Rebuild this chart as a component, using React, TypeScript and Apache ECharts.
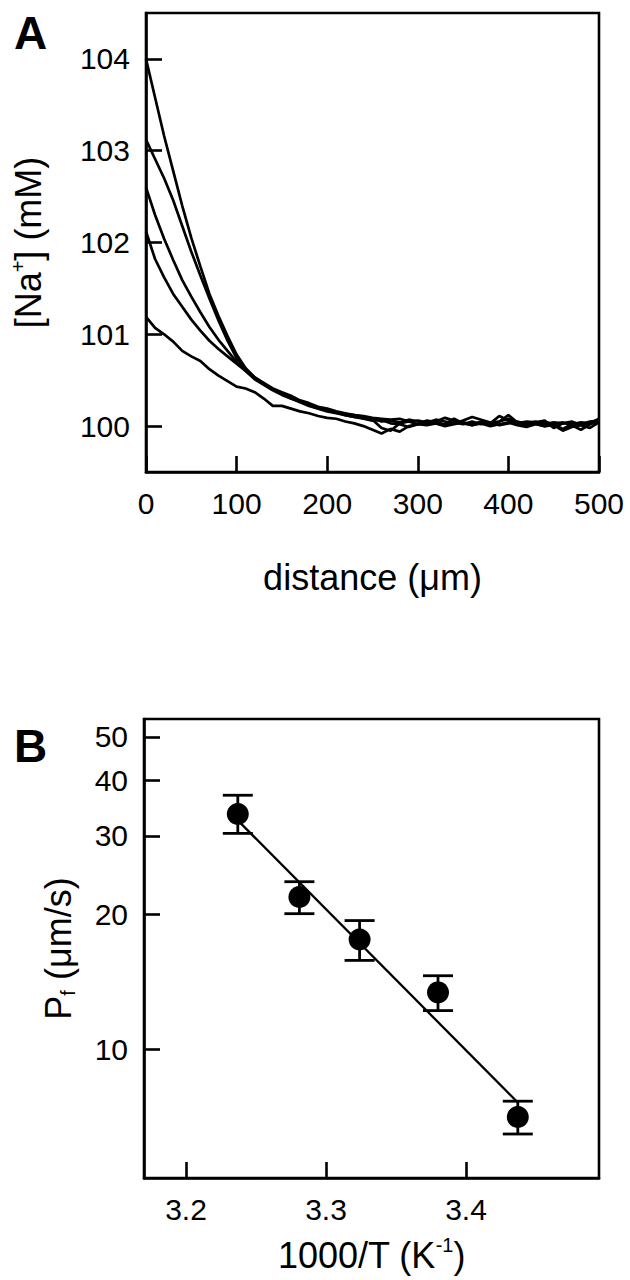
import React, { useEffect, useRef } from "react";
import * as echarts from "echarts";

// ---------- Panel A data ----------
const distanceUm = [
  0, 10, 20, 30, 40, 50, 60, 70, 80, 90, 100, 110, 120, 130, 140, 150, 160, 170, 180, 190, 200,
  210, 220, 230, 240, 250, 260, 270, 280, 290, 300, 310, 320, 330, 340, 350, 360, 370, 380, 390, 400,
  410, 420, 430, 440, 450, 460, 470, 480, 490, 500,
];
const naCurve1 = [
  104.0, 103.58, 103.16, 102.78, 102.4, 102.05, 101.74, 101.44, 101.2, 100.98, 100.78, 100.63, 100.53, 100.47, 100.41, 100.37, 100.33, 100.28, 100.25, 100.21, 100.19,
  100.16, 100.14, 100.12, 100.11, 100.09, 100.08, 100.07, 100.08, 100.05, 100.06, 100.04, 100.07, 100.05, 100.03, 100.06, 100.1, 100.07, 100.04, 100.05, 100.08,
  100.04, 100.03, 100.05, 100.02, 100.04, 100.03, 100.05, 100.01, 100.04, 100.07,
];
const naCurve2 = [
  103.12, 102.91, 102.7, 102.46, 102.18, 101.9, 101.64, 101.39, 101.15, 100.93, 100.74, 100.62, 100.53, 100.46, 100.4, 100.36, 100.31, 100.27, 100.24, 100.2, 100.18,
  100.15, 100.13, 100.12, 100.1, 100.08, 100.05, 100.06, 100.04, 100.07, 100.05, 100.03, 100.05, 100.09, 100.06, 100.04, 100.02, 100.05, 100.03, 100.11, 100.06,
  100.03, 100.05, 100.04, 100.06, 99.98, 100.03, 100.04, 100.02, 100.05, 100.06,
];
const naCurve3 = [
  102.6, 102.3, 102.04, 101.81, 101.59, 101.41, 101.24, 101.08, 100.94, 100.82, 100.7, 100.6, 100.51, 100.45, 100.39, 100.34, 100.3, 100.26, 100.22, 100.19, 100.16,
  100.14, 100.12, 100.1, 100.08, 100.06, 100.07, 100.03, 100.02, 99.99, 100.02, 100.04, 100.03, 100.01, 100.04, 100.02, 100.05, 100.02, 100.04, 100.01, 100.03,
  100.05, 100.02, 100.03, 100.0, 100.02, 100.04, 100.01, 99.96, 100.02, 100.05,
];
const naCurve4 = [
  102.12, 101.82, 101.62, 101.44, 101.3, 101.16, 101.04, 100.93, 100.84, 100.76, 100.68, 100.6, 100.52, 100.46, 100.4, 100.35, 100.3, 100.27, 100.23, 100.2, 100.17,
  100.15, 100.12, 100.1, 100.09, 100.07, 99.98, 99.95, 100.03, 100.05, 100.02, 100.06, 100.04, 100.02, 100.08, 100.03, 100.01, 100.04, 100.02, 100.05, 100.12,
  100.04, 100.01, 100.03, 100.05, 100.02, 99.97, 100.02, 100.04, 100.03, 100.08,
];
const naCurve5 = [
  101.19, 101.07, 101.0, 100.92, 100.82, 100.76, 100.71, 100.62, 100.55, 100.49, 100.43, 100.41, 100.37, 100.3, 100.22, 100.22, 100.19, 100.16, 100.14, 100.11, 100.09,
  100.08, 100.05, 100.03, 100.0, 99.96, 99.92, 99.97, 99.94, 100.0, 100.02, 100.01, 100.03, 100.0, 100.02, 100.04, 100.01, 100.03, 100.0, 100.02, 100.04,
  100.01, 99.99, 100.02, 100.0, 100.01, 99.95, 99.99, 100.01, 99.98, 100.04,
];
const naCurves = [naCurve1, naCurve2, naCurve3, naCurve4, naCurve5];
const naTicks = [100, 101, 102, 103, 104];

// ---------- Panel B data ----------
const invTemp = [3.237, 3.281, 3.324, 3.38, 3.437];
const pfMean = [33.6, 21.9, 17.6, 13.4, 7.05];
const pfLow = [30.4, 20.1, 15.8, 12.2, 6.46];
const pfHigh = [37.0, 23.7, 19.4, 14.6, 7.65];
const fitInvTemp = [3.237, 3.437];
const fitPf = [32.5, 7.6];
const invTTicks = [3.2, 3.3, 3.4];
const pfTicks = [10, 20, 30, 40, 50];

const FONT = "'Liberation Sans', Arial, Helvetica, sans-serif";
const lg = (v: number) => Math.log10(v);

export default function App() {
  const ref = useRef<HTMLDivElement>(null);

  useEffect(() => {
    if (!ref.current) return;
    const chart = echarts.init(ref.current, undefined, { renderer: "svg" });

    const axisLine = { show: true, lineStyle: { color: "#000", width: 2.6 } };
    const tickStyle = { color: "#000", width: 2.6 };
    const labelBase = { color: "#000", fontSize: 30, fontFamily: FONT, margin: 16 };
    const nameStyle = {
      color: "#000",
      fontSize: 36,
      fontFamily: FONT,
      lineHeight: 40,
      rich: {
        sup: { fontSize: 20, fontFamily: FONT, color: "#000", verticalAlign: "top", lineHeight: 40 },
        sub: { fontSize: 20, fontFamily: FONT, color: "#000", verticalAlign: "bottom", lineHeight: 40 },
      },
    };

    const option: any = {
      animation: false,
      backgroundColor: "#fff",
      grid: [
        { left: 144, right: 31, top: 13, height: 459, show: true, borderColor: "#000", borderWidth: 2.6, containLabel: false },
        { left: 144, right: 31, top: 719, height: 459, show: true, borderColor: "#000", borderWidth: 2.6, containLabel: false },
      ],
      xAxis: [
        {
          type: "value",
          gridIndex: 0,
          min: 0,
          max: 500,
          interval: 100,
          axisLine,
          axisTick: { show: true, inside: true, length: 16, lineStyle: tickStyle },
          axisLabel: { ...labelBase, showMinLabel: true, showMaxLabel: true },
          splitLine: { show: false },
          name: "distance (μm)",
          nameLocation: "middle",
          nameGap: 85,
          nameTextStyle: nameStyle,
        },
        {
          type: "value",
          gridIndex: 1,
          min: 3.17,
          max: 3.495,
          axisLine,
          axisTick: { show: true, inside: true, length: 16, lineStyle: tickStyle, customValues: invTTicks },
          axisLabel: { ...labelBase, customValues: invTTicks, formatter: (v: number) => v.toFixed(1) },
          splitLine: { show: false },
          name: "1000/T (K{sup|-1})",
          nameLocation: "middle",
          nameGap: 57,
          nameTextStyle: nameStyle,
        },
      ],
      yAxis: [
        {
          type: "value",
          gridIndex: 0,
          min: 99.5,
          max: 104.5,
          axisLine,
          axisTick: { show: true, inside: true, length: 16, lineStyle: tickStyle, customValues: naTicks },
          axisLabel: { ...labelBase, customValues: naTicks, formatter: (v: number) => String(Math.round(v)) },
          splitLine: { show: false },
          name: "[Na{sup|+}] (mM)",
          nameLocation: "middle",
          nameGap: 98,
          nameTextStyle: nameStyle,
        },
        {
          type: "value",
          gridIndex: 1,
          min: lg(5.15),
          max: lg(54.8),
          axisLine,
          axisTick: { show: true, inside: true, length: 16, lineStyle: tickStyle, customValues: pfTicks.map(lg) },
          axisLabel: {
            ...labelBase,
            customValues: pfTicks.map(lg),
            formatter: (v: number) => String(Math.round(Math.pow(10, v))),
          },
          splitLine: { show: false },
          name: "P{sub|f} (μm/s)",
          nameLocation: "middle",
          nameGap: 66,
          nameTextStyle: nameStyle,
        },
      ],
      series: [
        ...naCurves.map((c) => ({
          type: "line",
          xAxisIndex: 0,
          yAxisIndex: 0,
          data: distanceUm.map((d, i) => [d, c[i]]),
          showSymbol: false,
          symbol: "none",
          lineStyle: { color: "#000", width: 2.7 },
          z: 2,
        })),
        {
          type: "line",
          xAxisIndex: 1,
          yAxisIndex: 1,
          data: fitInvTemp.map((x, i) => [x, lg(fitPf[i])]),
          showSymbol: false,
          symbol: "none",
          lineStyle: { color: "#000", width: 2.3 },
          z: 2,
        },
        {
          type: "custom",
          xAxisIndex: 1,
          yAxisIndex: 1,
          data: invTemp.map((x, i) => [x, lg(pfLow[i]), lg(pfHigh[i])]),
          encode: { x: 0, y: [1, 2] },
          renderItem: (params: any, api: any) => {
            const x = api.value(0);
            const lo = api.coord([x, api.value(1)]);
            const hi = api.coord([x, api.value(2)]);
            const hw = 15;
            const style = { stroke: "#000", lineWidth: 2.8 };
            return {
              type: "group",
              children: [
                { type: "line", shape: { x1: lo[0], y1: lo[1], x2: hi[0], y2: hi[1] }, style },
                { type: "line", shape: { x1: lo[0] - hw, y1: lo[1], x2: lo[0] + hw, y2: lo[1] }, style },
                { type: "line", shape: { x1: hi[0] - hw, y1: hi[1], x2: hi[0] + hw, y2: hi[1] }, style },
              ],
            };
          },
          z: 3,
        },
        {
          type: "scatter",
          xAxisIndex: 1,
          yAxisIndex: 1,
          data: invTemp.map((x, i) => [x, lg(pfMean[i])]),
          symbol: "circle",
          symbolSize: 22,
          itemStyle: { color: "#000", opacity: 1 },
          z: 4,
        },
      ],
      graphic: [
        { type: "text", left: 14, top: 10, style: { text: "A", fontSize: 46, fontWeight: "bold", fontFamily: FONT, fill: "#000" } },
        { type: "text", left: 14, top: 723, style: { text: "B", fontSize: 46, fontWeight: "bold", fontFamily: FONT, fill: "#000" } },
      ],
    };

    chart.setOption(option);
    return () => chart.dispose();
  }, []);

  return (
    <div
      ref={ref}
      style={{ position: "absolute", left: 0, top: 0, width: 630, height: 1280, background: "#fff" }}
    />
  );
}
